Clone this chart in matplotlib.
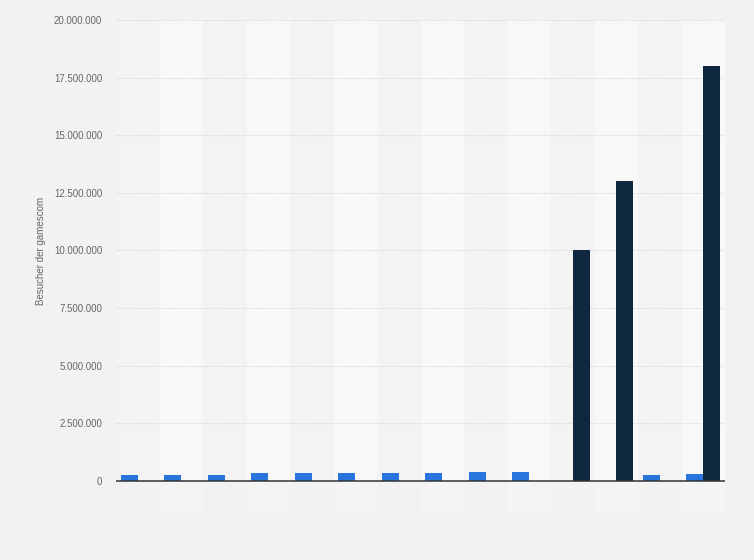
import numpy as np
import matplotlib
matplotlib.use('Agg')
import matplotlib.pyplot as plt
from matplotlib.ticker import FuncFormatter

plt.rcParams['font.family'] = ['Liberation Sans', 'DejaVu Sans']

# categories (no visible x labels in the reference)
years = ['2010', '2011', '2012', '2013', '2014', '2015', '2016',
         '2017', '2018', '2019', '2020', '2021', '2022', '2023']
visitors_onsite = [250000, 250000, 250000, 340000, 335000, 345000, 345000,
                   350000, 370000, 373000, np.nan, np.nan, 250000, 300000]
visitors_digital = [np.nan] * 10 + [10000000, 13000000, np.nan, 18000000]
yticks = [0, 2500000, 5000000, 7500000, 10000000, 12500000,
          15000000, 17500000, 20000000]

BG = '#f2f2f2'
BLUE = '#2876dd'
NAVY = '#0f2840'

fig = plt.figure(figsize=(7.54, 5.60), dpi=100, facecolor=BG)
ax = fig.add_axes([116 / 754, 1 - 512 / 560, 609 / 754, 492 / 560])
ax.set_facecolor(BG)

x = np.arange(len(years))
ymin = -1345000
ax.set_xlim(-0.5, len(years) - 0.5)
ax.set_ylim(ymin, 20000000)

# alternating column bands
for i in x:
    top_c = '#f8f8f8' if i % 2 else '#f3f3f3'
    bot_c = '#f4f4f4' if i % 2 else '#f2f2f2'
    ax.fill_between([i - 0.5, i + 0.5], 0, 20000000, color=top_c, lw=0, zorder=0)
    ax.fill_between([i - 0.5, i + 0.5], ymin, 0, color=bot_c, lw=0, zorder=0)

for t in yticks[1:]:
    ax.axhline(t, color='#d6d6d6', lw=0.8, ls=(0, (1, 1.2)), zorder=1)

w = 0.39
ax.bar(x - 0.2, visitors_onsite, width=w, color=BLUE, zorder=2)
ax.bar(x + 0.2, visitors_digital, width=w, color=NAVY, zorder=2)
ax.axhline(0, color='#333333', lw=1.1, zorder=3)

ax.set_yticks(yticks)
ax.yaxis.set_major_formatter(FuncFormatter(lambda v, p: f'{int(v):,}'.replace(',', '.')))
ax.tick_params(axis='y', length=0, pad=10, labelsize=7, labelcolor='#666666')
ax.set_xticks([])
for s in ax.spines.values():
    s.set_visible(False)

fig.text(40.5 / 754, 1 - 250.5 / 560, 'Besucher der gamescom', rotation=90,
         ha='center', va='center', fontsize=7, color='#666666')

fig.savefig('out.png', dpi=100, facecolor=BG)
